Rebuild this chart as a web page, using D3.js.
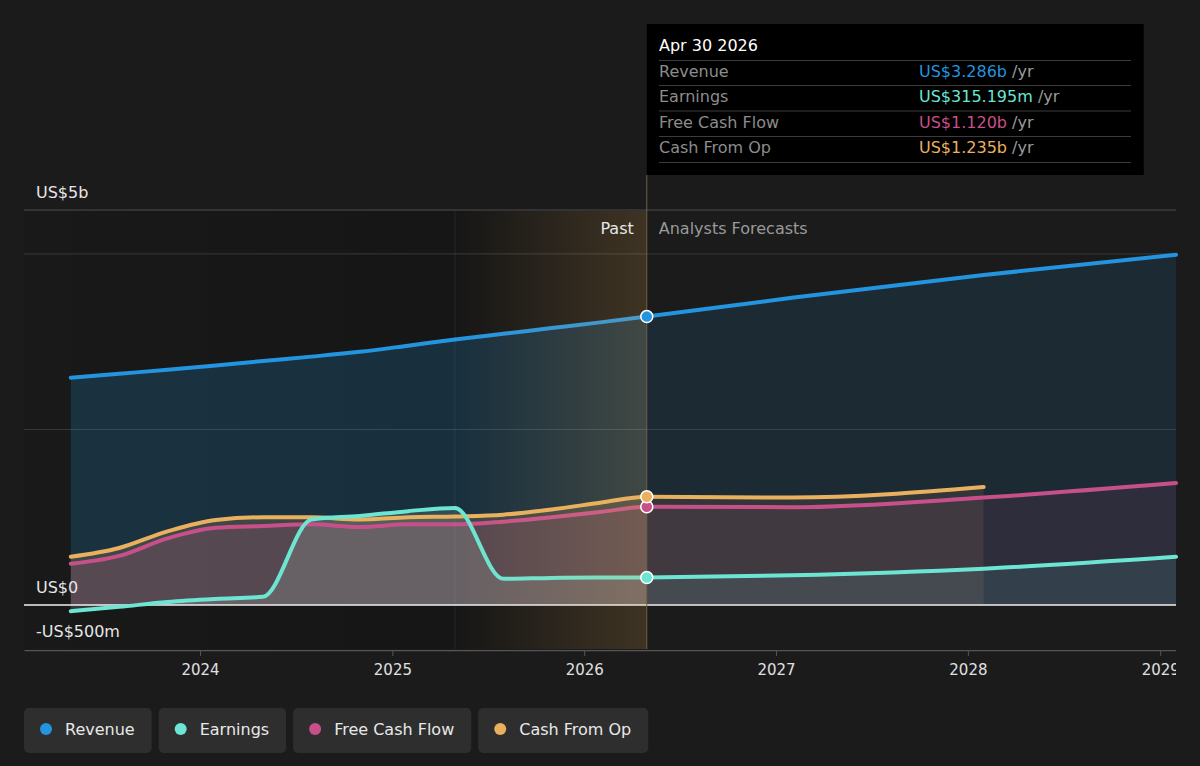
<!DOCTYPE html>
<html>
<head>
<meta charset="utf-8">
<script src="https://cdn.jsdelivr.net/npm/d3@7"></script>
<style>
  body { margin: 0; background: #1b1b1b; }
  svg { display: block; font-family: "DejaVu Sans", sans-serif; }
</style>
</head>
<body>
<div id="chart"></div>
<script>
// ============
// Data (values in US$ billions)
// ============

var pastDates = ["2023-04-30", "2023-07-31", "2023-10-31", "2024-01-31", "2024-04-30",
  "2024-07-31", "2024-10-31", "2025-01-31", "2025-04-30", "2025-07-31",
  "2025-10-31", "2026-01-31", "2026-04-30"];
var forecastDates = ["2026-04-30", "2027-01-31", "2028-01-31", "2029-01-31"];

var revenuePast = [2.59, 2.635, 2.68, 2.73, 2.78, 2.83, 2.885, 2.955, 3.025, 3.09, 3.155, 3.22, 3.286];
var earningsPast = [-0.07, -0.02, 0.035, 0.07, 0.095, 0.975, 1.015, 1.07, 1.107, 0.30, 0.31, 0.313, 0.315195];
var fcfPast = [0.47, 0.56, 0.76, 0.88, 0.90, 0.92, 0.89, 0.92, 0.92, 0.95, 1.00, 1.06, 1.120];
var cfoPast = [0.55, 0.65, 0.84, 0.97, 1.00, 1.00, 0.975, 1.00, 1.01, 1.03, 1.09, 1.165, 1.235];

var revenueForecast = [3.286, 3.50, 3.76, 3.99];
var earningsForecast = [0.315195, 0.34, 0.415, 0.55];
var fcfForecast = [1.120, 1.115, 1.225, 1.39];
var cfoForecast = [1.235, 1.225, 1.345];

var seriesNames = ["Revenue", "Earnings", "Free Cash Flow", "Cash From Op"];
var seriesColors = ["#2394df", "#6ce5d3", "#c8508a", "#e9b15f"];

var yearTicks = ["2024-01-01", "2025-01-01", "2026-01-01", "2027-01-01", "2028-01-01", "2029-01-01"];
var yLabelValues = [4.5, 0, -0.5];
var yLabelText = ["US$5b", "US$0", "-US$500m"];
var yGridValues = [4, 2];

var tooltipDate = "2026-04-30";
var tooltipTitle = "Apr 30 2026";
var bandStart = "2025-04-30";

// ============
// Set up of the chart and svg
// ============

var svgWidth = 1200;
var svgHeight = 766;
var plotLeft = 24, plotRight = 1176, plotTop = 211, plotBottom = 649;

var parseDate = d3.utcParse("%Y-%m-%d");

var svg = d3.select("#chart")
  .append("svg")
  .attr("width", svgWidth)
  .attr("height", svgHeight);

var xScale = d3.scaleUtc()
  .domain([parseDate("2023-01-31"), parseDate("2029-01-31")])
  .range([plotLeft, plotRight]);

var yScale = d3.scaleLinear()
  .domain([-0.5, 4.5])
  .range([plotBottom, plotTop - 1]);

var nowX = xScale(parseDate(tooltipDate));
var bandX = xScale(parseDate(bandStart));

function buildSeries(past, forecast, fDates) {
  var pts = past.map((v, i) => ({ date: parseDate(pastDates[i]), value: v }));
  forecast.slice(1).forEach((v, i) => pts.push({ date: parseDate(fDates[i + 1]), value: v }));
  return pts;
}

var series = [
  { name: seriesNames[0], color: seriesColors[0], data: buildSeries(revenuePast, revenueForecast, forecastDates), past: 0.2, future: 0.13 },
  { name: seriesNames[3], color: seriesColors[3], data: buildSeries(cfoPast, cfoForecast, forecastDates), past: 0.18, future: 0.1 },
  { name: seriesNames[2], color: seriesColors[2], data: buildSeries(fcfPast, fcfForecast, forecastDates), past: 0.18, future: 0.1 },
  { name: seriesNames[1], color: seriesColors[1], data: buildSeries(earningsPast, earningsForecast, forecastDates), past: 0.15, future: 0.1, pastFill: "#c8f0e0" }
];

// ============
// defs: clips and gradients
// ============

var defs = svg.append("defs");

defs.append("clipPath").attr("id", "past-clip")
  .append("rect").attr("x", plotLeft).attr("y", 0).attr("width", nowX - plotLeft).attr("height", svgHeight);
defs.append("clipPath").attr("id", "future-clip")
  .append("rect").attr("x", nowX).attr("y", 0).attr("width", plotRight - nowX).attr("height", svgHeight);
defs.append("clipPath").attr("id", "plot-clip")
  .append("rect").attr("x", 0).attr("y", 0).attr("width", plotRight).attr("height", svgHeight);

var pastGrad = defs.append("linearGradient").attr("id", "past-grad");
pastGrad.append("stop").attr("offset", "0%").attr("stop-color", "#000").attr("stop-opacity", 0.08);
pastGrad.append("stop").attr("offset", "100%").attr("stop-color", "#000").attr("stop-opacity", 0.25);

var bandGrad = defs.append("linearGradient").attr("id", "band-grad");
bandGrad.append("stop").attr("offset", "0%").attr("stop-color", "#e9b15f").attr("stop-opacity", 0);
bandGrad.append("stop").attr("offset", "100%").attr("stop-color", "#e9b15f").attr("stop-opacity", 0.2);

// ============
// Background regions and grid
// ============

svg.append("rect")
  .attr("x", plotLeft).attr("y", plotTop)
  .attr("width", nowX - plotLeft).attr("height", plotBottom - plotTop)
  .attr("fill", "url(#past-grad)");

svg.selectAll(".grid")
  .data(yGridValues)
  .enter()
  .append("line")
  .attr("x1", plotLeft).attr("x2", plotRight)
  .attr("y1", d => yScale(d)).attr("y2", d => yScale(d))
  .attr("stroke", "#383838");

svg.append("line")
  .attr("x1", plotLeft).attr("x2", plotRight)
  .attr("y1", yScale(4.5)).attr("y2", yScale(4.5))
  .attr("stroke", "#4d4d4d");

// ============
// Areas and lines
// ============

var area = d3.area()
  .x(d => xScale(d.date))
  .y0(yScale(0))
  .y1(d => yScale(d.value))
  .curve(d3.curveMonotoneX);

var line = d3.line()
  .x(d => xScale(d.date))
  .y(d => yScale(d.value))
  .curve(d3.curveMonotoneX);

series.forEach(function(s) {
  svg.append("path")
    .datum(s.data)
    .attr("d", area)
    .attr("clip-path", "url(#past-clip)")
    .attr("fill", s.pastFill || s.color)
    .attr("fill-opacity", s.past);
  svg.append("path")
    .datum(s.data)
    .attr("d", area)
    .attr("clip-path", "url(#future-clip)")
    .attr("fill", s.color)
    .attr("fill-opacity", s.future);
});

// zero line
svg.append("line")
  .attr("x1", plotLeft).attr("x2", plotRight)
  .attr("y1", yScale(0)).attr("y2", yScale(0))
  .attr("stroke", "#f0f0f0")
  .attr("stroke-width", 1.5);

series.forEach(function(s) {
  svg.append("path")
    .datum(s.data)
    .attr("d", line)
    .attr("fill", "none")
    .attr("stroke", s.color)
    .attr("stroke-width", 4)
    .attr("stroke-linecap", "round");
});

// last 12 months band, laid over the lines
svg.append("rect")
  .attr("x", bandX).attr("y", plotTop)
  .attr("width", nowX - bandX).attr("height", plotBottom - plotTop)
  .attr("fill", "url(#band-grad)");

svg.append("line")
  .attr("x1", bandX).attr("x2", bandX)
  .attr("y1", plotTop).attr("y2", plotBottom)
  .attr("stroke", "#fff")
  .attr("stroke-opacity", 0.07);

svg.append("line")
  .attr("x1", nowX).attr("x2", nowX)
  .attr("y1", 175).attr("y2", plotBottom)
  .attr("stroke", "#6d604d");

// ============
// Axes and labels
// ============

var xAxis = svg.append("g")
  .attr("transform", `translate(0, ${plotBottom + 1})`)
  .attr("clip-path", "url(#plot-clip)")
  .call(d3.axisBottom(xScale)
    .tickValues(yearTicks.map(parseDate))
    .tickFormat(d3.utcFormat("%Y"))
    .tickSize(6)
    .tickSizeOuter(0)
    .tickPadding(8));

xAxis.select(".domain").attr("stroke", "#555").attr("stroke-width", 1.5);
xAxis.selectAll(".tick line").attr("stroke", "#555");
xAxis.selectAll(".tick text")
  .attr("fill", "#e0e0e0")
  .style("font-size", "15px")
  .style("font-family", "DejaVu Sans");

svg.selectAll(".ylabel")
  .data(yLabelValues)
  .enter()
  .append("text")
  .attr("x", 36)
  .attr("y", d => yScale(d) - 12)
  .attr("fill", "#e6e6e6")
  .style("font-size", "16px")
  .text((d, i) => yLabelText[i]);

svg.append("text")
  .attr("x", nowX - 13).attr("y", 234)
  .attr("text-anchor", "end")
  .attr("fill", "#e6e6e6")
  .style("font-size", "16px")
  .text("Past");

svg.append("text")
  .attr("x", nowX + 12).attr("y", 234)
  .attr("fill", "#999")
  .style("font-size", "16px")
  .text("Analysts Forecasts");

// ============
// Markers at the current date
// ============

var dotOrder = [0, 3, 2, 1];
dotOrder.forEach(function(k) {
  var s = series[k];
  var pt = s.data.find(d => +d.date === +parseDate(tooltipDate));
  svg.append("circle")
    .attr("cx", xScale(pt.date))
    .attr("cy", yScale(pt.value))
    .attr("r", 6)
    .attr("fill", s.color)
    .attr("stroke", "#fff")
    .attr("stroke-width", 1.5);
});

// ============
// Tooltip box
// ============

function fmtValue(v) {
  if (Math.abs(v) >= 1) return "US$" + v.toFixed(3) + "b";
  return "US$" + (v * 1000).toFixed(3) + "m";
}

var tipValues = [revenuePast, earningsPast, fcfPast, cfoPast].map(a => a[a.length - 1]);

var tip = svg.append("g");
tip.append("rect")
  .attr("x", nowX).attr("y", 24)
  .attr("width", 497).attr("height", 151)
  .attr("fill", "#000");

tip.append("text")
  .attr("x", 659).attr("y", 51)
  .attr("fill", "#fff")
  .style("font-size", "16px")
  .text(tooltipTitle);

var rowY = [60.5, 85.5, 111, 136.5, 162.5];
tip.selectAll(".sep")
  .data(rowY)
  .enter()
  .append("line")
  .attr("x1", 659).attr("x2", 1131)
  .attr("y1", d => d).attr("y2", d => d)
  .attr("stroke", "#3c3c3c")
  .attr("stroke-width", 1.2);

seriesNames.forEach(function(name, i) {
  tip.append("text")
    .attr("x", 659).attr("y", rowY[i] + 16.8)
    .attr("fill", "#8c8c8c")
    .style("font-size", "16px")
    .text(name);
  var t = tip.append("text")
    .attr("x", 919).attr("y", rowY[i] + 16.8)
    .style("font-size", "16px");
  t.append("tspan").attr("fill", seriesColors[i]).text(fmtValue(tipValues[i]));
  t.append("tspan").attr("fill", "#9a9a9a").text(" /yr");
});

// ============
// Legend
// ============

var legendX = 24;
seriesNames.forEach(function(name, i) {
  var g = svg.append("g").attr("transform", `translate(${legendX}, 708)`);
  var box = g.append("rect")
    .attr("height", 45)
    .attr("rx", 5)
    .attr("fill", "#2e2e2e");
  g.append("circle")
    .attr("cx", 22).attr("cy", 21)
    .attr("r", 6)
    .attr("fill", seriesColors[i]);
  var label = g.append("text")
    .attr("x", 41).attr("y", 27)
    .attr("fill", "#e8e8e8")
    .style("font-size", "16px")
    .text(name);
  var w = 41 + label.node().getComputedTextLength() + 17;
  box.attr("width", w);
  legendX += w + 7;
});
</script>
</body>
</html>
